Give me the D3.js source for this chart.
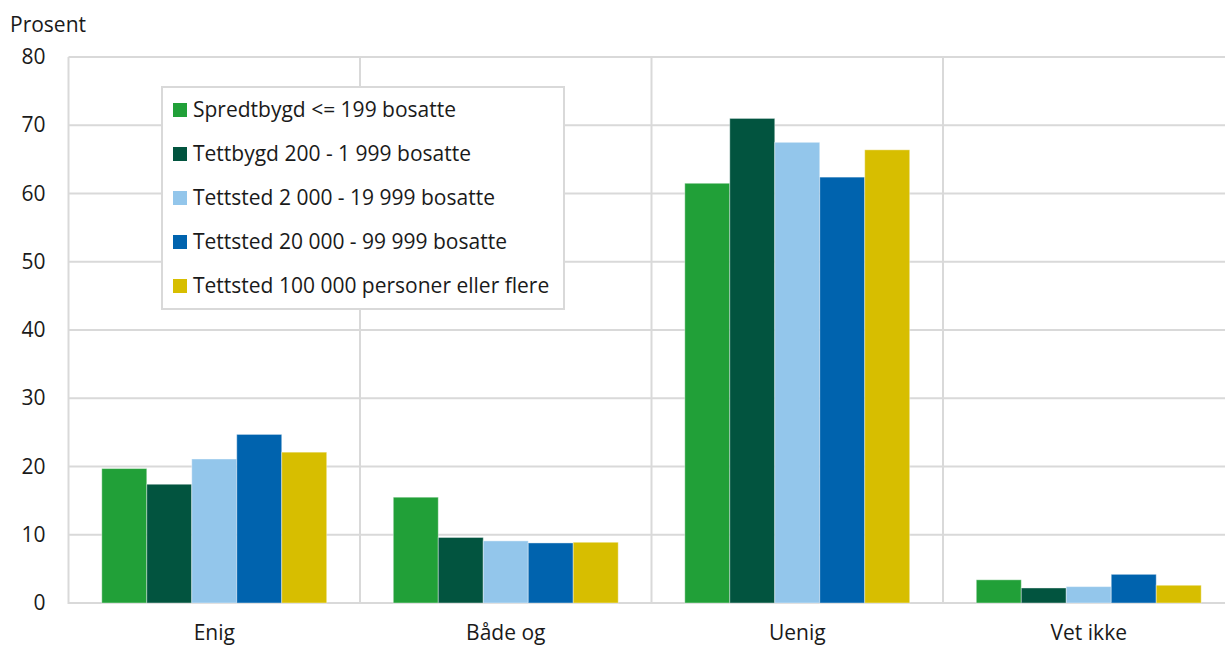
<!DOCTYPE html>
<html><head><meta charset="utf-8">
<script src="https://cdn.jsdelivr.net/npm/d3@7"></script>
<style>body{margin:0;background:#fff;} text{font-family:"Open Sans",sans-serif;fill:#1a1a1a;}</style>
</head><body><svg id="c" width="1225" height="646"></svg>
<script>
const categories = ["Enig", "Både og", "Uenig", "Vet ikke"];
const seriesNames = ["Spredtbygd <= 199 bosatte", "Tettbygd 200 - 1 999 bosatte", "Tettsted 2 000 - 19 999 bosatte", "Tettsted 20 000 - 99 999 bosatte", "Tettsted 100 000 personer eller flere"];
const spredtbygd = [19.7, 15.5, 61.5, 3.4];
const tettbygd = [17.4, 9.6, 71.0, 2.2];
const tettsted2000 = [21.1, 9.1, 67.5, 2.4];
const tettsted20000 = [24.7, 8.8, 62.4, 4.2];
const tettsted100000 = [22.1, 8.9, 66.4, 2.6];
const yTicks = [0, 10, 20, 30, 40, 50, 60, 70, 80];
const colors = ["#21a038", "#02543f", "#93c6eb", "#0063ae", "#d7be00"];
const seriesValues = [spredtbygd, tettbygd, tettsted2000, tettsted20000, tettsted100000];

const svg = d3.select("#c");
const pLeft = 68.5, pRight = 1234.5, pTop = 57, pBottom = 603;
const x = d3.scaleBand().domain(categories).range([pLeft, pRight]).paddingInner(0).paddingOuter(0);
const y = d3.scaleLinear().domain([0, 80]).range([pBottom, pTop]);
const xs = d3.scaleBand().domain(d3.range(seriesNames.length)).range([0, x.bandwidth()]).paddingOuter(0.74).paddingInner(0);

// horizontal gridlines
svg.append("g").selectAll("line").data(yTicks).join("line")
  .attr("x1", pLeft).attr("x2", 1225).attr("y1", d => y(d)).attr("y2", d => y(d))
  .attr("stroke", "#d9d9d9").attr("stroke-width", 2);
// vertical gridlines
const bounds = categories.map(c => x(c)).concat([pRight]);
svg.append("g").selectAll("line").data(bounds).join("line")
  .attr("x1", d => d).attr("x2", d => d).attr("y1", pTop).attr("y2", pBottom + 1)
  .attr("stroke", "#d9d9d9").attr("stroke-width", 2);

// bars
const g = svg.append("g");
seriesValues.forEach((vals, si) => {
  g.append("g").selectAll("rect").data(vals).join("rect")
    .attr("x", (d, i) => x(categories[i]) + xs(si))
    .attr("width", xs.bandwidth())
    .attr("y", d => y(d))
    .attr("height", d => y(0) - y(d))
    .attr("fill", colors[si])
    .attr("stroke", "rgba(255,255,255,0.4)").attr("stroke-width", 1);
});

// y axis labels
const yAxis = d3.axisLeft(y).tickValues(yTicks).tickSize(0).tickPadding(23);
const ya = svg.append("g").attr("transform", `translate(${pLeft},0)`).call(yAxis);
ya.select(".domain").remove();
ya.selectAll("text").style("font-size", "21px").style("font-family", "Open Sans").attr("fill", "#1a1a1a");

// x axis labels
const xAxis = d3.axisBottom(x).tickSize(0).tickPadding(22);
const xa = svg.append("g").attr("transform", `translate(0,${pBottom})`).call(xAxis);
xa.select(".domain").remove();
xa.selectAll("text").style("font-size", "21px").style("font-family", "Open Sans").attr("fill", "#1a1a1a");

// title
svg.append("text").attr("x", 10).attr("y", 32).style("font-size", "21px").text("Prosent");

// legend
const lg = svg.append("g");
lg.append("rect").attr("x", 162).attr("y", 87).attr("width", 402).attr("height", 222)
  .attr("fill", "#fff").attr("stroke", "#d9d9d9").attr("stroke-width", 2);
seriesNames.forEach((n, i) => {
  const yy = 110 + i * 44;
  lg.append("rect").attr("x", 173).attr("y", yy - 7).attr("width", 14).attr("height", 14).attr("fill", colors[i]);
  lg.append("text").attr("x", 193).attr("y", yy).attr("dy", "0.35em").style("font-size", "21px").text(n);
});
</script></body></html>
